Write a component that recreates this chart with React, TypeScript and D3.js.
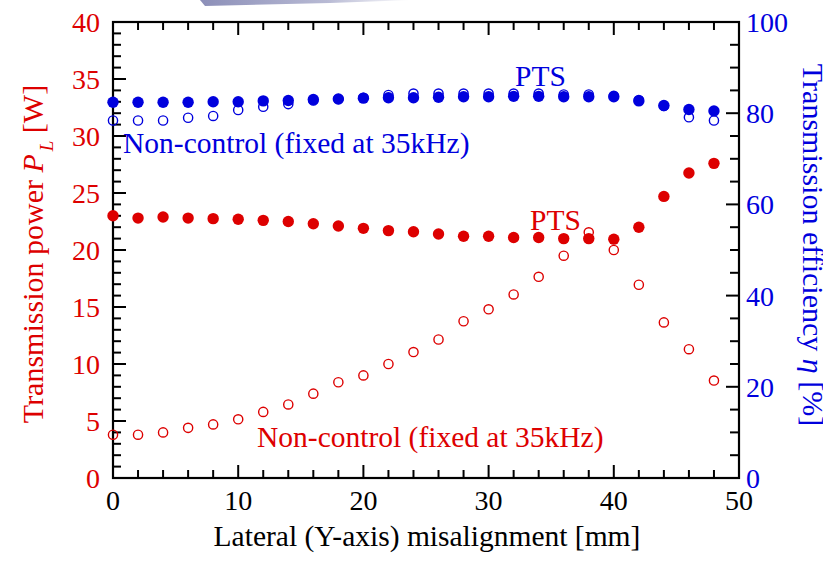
import React, { useEffect, useRef } from "react";
import * as d3 from "d3";

// lateral misalignment [mm]
const misalign = [0, 2, 4, 6, 8, 10, 12, 14, 16, 18, 20, 22, 24, 26, 28, 30, 32, 34, 36, 38, 40, 42, 44, 46, 48];

// transmission power [W]
const powerPTS = [23.0, 22.8, 22.9, 22.8, 22.75, 22.7, 22.6, 22.5, 22.3, 22.1, 21.9, 21.7, 21.6, 21.4, 21.2, 21.2, 21.1, 21.1, 21.0, 21.0, 20.95, 22.0, 24.7, 26.75, 27.6];
const powerFixed = [3.8, 3.8, 4.0, 4.4, 4.7, 5.15, 5.8, 6.45, 7.4, 8.4, 9.0, 10.0, 11.05, 12.15, 13.75, 14.8, 16.1, 17.65, 19.5, 21.55, 20.0, 16.95, 13.65, 11.3, 8.55];

// transmission efficiency [%]
const effPTS = [82.4, 82.4, 82.4, 82.4, 82.5, 82.5, 82.7, 82.8, 83.0, 83.1, 83.3, 83.4, 83.4, 83.5, 83.6, 83.6, 83.7, 83.7, 83.6, 83.6, 83.6, 82.7, 81.7, 80.8, 80.5];
const effFixed = [78.4, 78.4, 78.4, 79.0, 79.4, 80.7, 81.4, 82.0, 82.8, 83.1, 83.4, 84.0, 84.3, 84.3, 84.3, 84.3, 84.3, 84.3, 84.1, 84.1, 83.8, 82.9, 81.6, 79.1, 78.4];

const xTickLabels = [0, 10, 20, 30, 40, 50];
const leftTickLabels = [0, 5, 10, 15, 20, 25, 30, 35, 40];
const rightTickLabels = [0, 20, 40, 60, 80, 100];

const RED = "#dd0000";
const BLUE = "#0000dd";
const FONT = "'Liberation Serif', 'Times New Roman', serif";

export default function App() {
  const ref = useRef<SVGSVGElement>(null);

  useEffect(() => {
    const w = 823, h = 562;
    const left = 113, right = 739, top = 22, bottom = 478;

    const x = d3.scaleLinear().domain([0, 50]).range([left, right]);
    const yL = d3.scaleLinear().domain([0, 40]).range([bottom, top]);
    const yR = d3.scaleLinear().domain([0, 100]).range([bottom, top]);

    const svg = d3.select(ref.current).attr("width", w).attr("height", h);
    svg.selectAll("*").remove();

    // faint grey sliver at the top edge
    const grad = svg.append("defs").append("linearGradient").attr("id", "sliver");
    grad.append("stop").attr("offset", "0").attr("stop-color", "#8c8fb8");
    grad.append("stop").attr("offset", "0.6").attr("stop-color", "#b8bad4");
    grad.append("stop").attr("offset", "1").attr("stop-color", "#ffffff");
    svg.append("polygon")
      .attr("points", "200,0 412,0 330,3 205,6")
      .attr("fill", "url(#sliver)");

    const g = svg.append("g");

    // ticks
    const tk = g.append("g").attr("stroke", "#000").attr("stroke-width", 2);
    d3.range(0, 51, 2).forEach(v => {
      const len = v % 10 === 0 ? 13 : 8;
      tk.append("line").attr("x1", x(v)).attr("x2", x(v)).attr("y1", bottom).attr("y2", bottom - len);
      tk.append("line").attr("x1", x(v)).attr("x2", x(v)).attr("y1", top).attr("y2", top + len);
    });
    d3.range(0, 41, 1).forEach(v => {
      const len = v % 5 === 0 ? 13 : 8;
      tk.append("line").attr("x1", left).attr("x2", left + len).attr("y1", yL(v)).attr("y2", yL(v));
    });
    d3.range(0, 101, 5).forEach(v => {
      const len = v % 20 === 0 ? 13 : 9;
      tk.append("line").attr("x1", right).attr("x2", right - len).attr("y1", yR(v)).attr("y2", yR(v));
    });

    // frame
    g.append("rect")
      .attr("x", left).attr("y", top)
      .attr("width", right - left).attr("height", bottom - top)
      .attr("fill", "none").attr("stroke", "#000").attr("stroke-width", 2.2);

    // tick labels
    g.selectAll(".xl").data(xTickLabels).enter().append("text")
      .attr("x", d => x(d)).attr("y", 510)
      .attr("text-anchor", "middle").attr("font-family", FONT).attr("font-size", 28)
      .attr("fill", "#000").text(d => d);
    g.selectAll(".ll").data(leftTickLabels).enter().append("text")
      .attr("x", 100).attr("y", d => yL(d) + 10)
      .attr("text-anchor", "end").attr("font-family", FONT).attr("font-size", 28)
      .attr("fill", RED).text(d => d);
    g.selectAll(".rl").data(rightTickLabels).enter().append("text")
      .attr("x", 746).attr("y", d => yR(d) + 10)
      .attr("text-anchor", "start").attr("font-family", FONT).attr("font-size", 28)
      .attr("fill", BLUE).text(d => d);

    // open circles (non-control), then filled (PTS) on top
    const open = (vals: number[], y: d3.ScaleLinear<number, number>, c: string) =>
      g.append("g").selectAll("circle").data(vals).enter().append("circle")
        .attr("cx", (d, i) => x(misalign[i])).attr("cy", d => y(d)).attr("r", 4.6)
        .attr("fill", "none").attr("stroke", c).attr("stroke-width", 1.4);
    const filled = (vals: number[], y: d3.ScaleLinear<number, number>, c: string) =>
      g.append("g").selectAll("circle").data(vals).enter().append("circle")
        .attr("cx", (d, i) => x(misalign[i])).attr("cy", d => y(d)).attr("r", 5.7)
        .attr("fill", c);

    open(effFixed, yR, BLUE);
    filled(effPTS, yR, BLUE);
    open(powerFixed, yL, RED);
    filled(powerPTS, yL, RED);

    // annotations
    const note = (tx: number, ty: number, c: string, s: string) =>
      g.append("text").attr("x", tx).attr("y", ty).attr("font-family", FONT)
        .attr("font-size", 29.5).attr("fill", c).text(s);
    note(515, 86, BLUE, "PTS");
    note(123, 153, BLUE, "Non-control (fixed at 35kHz)");
    note(530, 230, RED, "PTS");
    note(257, 447, RED, "Non-control (fixed at 35kHz)");

    // axis titles
    g.append("text").attr("x", (left + right) / 2 + 1).attr("y", 546)
      .attr("text-anchor", "middle").attr("font-family", FONT).attr("font-size", 29.5)
      .text("Lateral (Y-axis) misalignment [mm]");

    const lt = g.append("text").attr("transform", "translate(43,254) rotate(-90)")
      .attr("text-anchor", "middle").attr("font-family", FONT).attr("font-size", 30)
      .attr("fill", RED);
    lt.append("tspan").text("Transmission power ");
    lt.append("tspan").attr("font-style", "italic").text("P");
    lt.append("tspan").attr("font-style", "italic").attr("font-size", 19).attr("dx", 3).attr("dy", 10).text("L");
    lt.append("tspan").attr("dy", -10).text(" [W]");

    const rt = g.append("text").attr("transform", "translate(803,245) rotate(90)")
      .attr("text-anchor", "middle").attr("font-family", FONT).attr("font-size", 30)
      .attr("fill", BLUE);
    rt.append("tspan").text("Transmission efficiency ");
    rt.append("tspan").attr("font-style", "italic").text("\u03b7");
    rt.append("tspan").text(" [%]");
  }, []);

  return (
    <div style={{ position: "absolute", left: 0, top: 0 }}>
      <svg ref={ref} style={{ display: "block", background: "#fff" }} />
    </div>
  );
}
